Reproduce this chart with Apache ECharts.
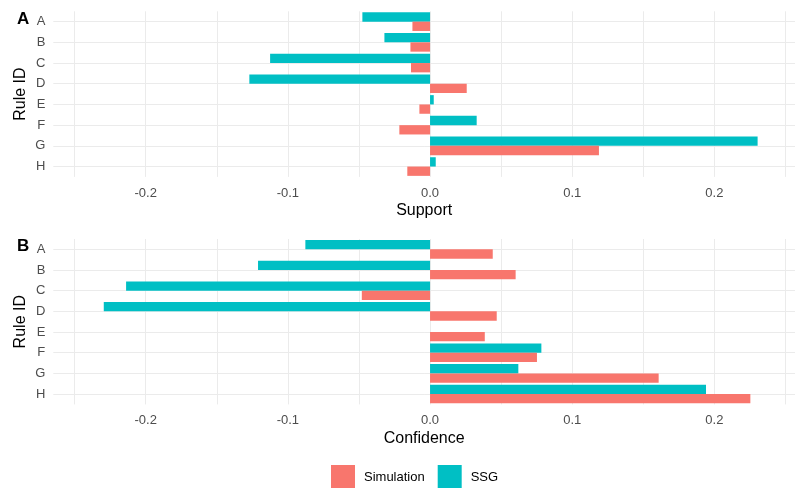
<!DOCTYPE html>
<html>
<head>
<meta charset="utf-8">
<script src="https://cdn.jsdelivr.net/npm/echarts@6/dist/echarts.min.js"></script>
<style>
html,body{margin:0;padding:0;background:#fff;}
#chart{width:796px;height:488px;}
</style>
</head>
<body>
<div id="chart"></div>
<script>
const categories = ['A','B','C','D','E','F','G','H'];
const supportSimulation = [-0.0124,-0.0138,-0.0134,0.0258,-0.0075,-0.0216,0.1188,-0.016];
const supportSSG = [-0.0476,-0.0321,-0.1125,-0.1271,0.0026,0.0328,0.2304,0.0040];
const confidenceSimulation = [0.0441,0.0602,-0.048,0.0469,0.0385,0.0752,0.1608,0.2253];
const confidenceSSG = [-0.0877,-0.121,-0.2138,-0.2295,0,0.0783,0.0621,0.1941];
const gridValues = [-0.25,-0.2,-0.15,-0.1,-0.05,0,0.05,0.1,0.15,0.2,0.25];
const tickLabels = [-0.2,-0.1,0,0.1,0.2];

const FONT = 'Liberation Sans, Arial, sans-serif';
const RED = '#F8766D', TEAL = '#00BFC4';

function xAxis(gridIndex, name) {
  return {
    type: 'value', gridIndex: gridIndex, min: -0.265, max: 0.2567,
    name: name, nameLocation: 'middle', nameGap: 26, nameMoveOverlap: false,
    nameTextStyle: {color: '#000', fontSize: 16, fontFamily: FONT},
    axisLine: {show: false},
    axisTick: {show: false, customValues: gridValues},
    axisLabel: {customValues: tickLabels, color: '#4d4d4d', fontSize: 13, fontFamily: FONT, margin: 10,
      formatter: v => v.toFixed(1)},
    splitLine: {show: true, lineStyle: {color: '#ebebeb', width: 1}}
  };
}
function yAxis(gridIndex) {
  return {
    type: 'category', gridIndex: gridIndex, data: categories, inverse: true,
    name: 'Rule ID', nameLocation: 'middle', nameRotate: 90, nameGap: 25, nameMoveOverlap: false,
    nameTextStyle: {color: '#000', fontSize: 16, fontFamily: FONT},
    axisLine: {show: false},
    axisTick: {show: false, alignWithLabel: true},
    axisLabel: {color: '#4d4d4d', fontSize: 13, fontFamily: FONT, margin: 8},
    splitLine: {show: true, alignWithLabel: true, lineStyle: {color: '#ebebeb', width: 1}}
  };
}
function bar(name, idx, data, color) {
  return {
    name: name, type: 'bar', xAxisIndex: idx, yAxisIndex: idx, data: data,
    itemStyle: {color: color}, barGap: '0%', barCategoryGap: '10%',
    emphasis: {disabled: true}
  };
}

const chart = echarts.init(document.getElementById('chart'), null, {renderer: 'canvas'});
chart.setOption({
  animation: false,
  backgroundColor: '#fff',
  title: [
    {text: 'A', left: 12, top: 6, textStyle: {fontSize: 17, fontWeight: 'bold', color: '#000', fontFamily: FONT}},
    {text: 'B', left: 12, top: 233, textStyle: {fontSize: 17, fontWeight: 'bold', color: '#000', fontFamily: FONT}}
  ],
  legend: {
    data: ['Simulation','SSG'], left: 326, top: 460, itemWidth: 24, itemHeight: 24, itemGap: 13,
    icon: 'rect',
    textStyle: {fontSize: 13, color: '#000', fontFamily: FONT, padding: [0,0,0,4]}
  },
  grid: [
    {left: 53.3, right: 1, top: 11.3, height: 165.6},
    {left: 53.3, right: 1, top: 239, height: 165.4}
  ],
  xAxis: [xAxis(0, 'Support'), xAxis(1, 'Confidence')],
  yAxis: [yAxis(0), yAxis(1)],
  series: [
    bar('SSG', 0, supportSSG, TEAL),
    bar('Simulation', 0, supportSimulation, RED),
    bar('SSG', 1, confidenceSSG, TEAL),
    bar('Simulation', 1, confidenceSimulation, RED)
  ]
});
</script>
</body>
</html>
